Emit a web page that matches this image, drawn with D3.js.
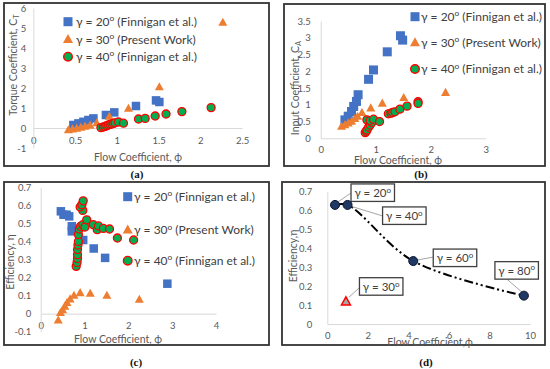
<!DOCTYPE html>
<html>
<head>
<meta charset="utf-8">
<style>
  body { margin: 0; background: #fff; }
  svg { display: block; font-family: Lato, "Open Sans", sans-serif; }
  .axis path { stroke: #D9D9D9; stroke-width: 1; }
  .axis text { fill: #595959; font-size: 9.5px; font-family: Lato, sans-serif; }
  .ttl { fill: #595959; font-size: 10.5px; }
  .leg { fill: #404040; font-size: 12px; }
  .box { fill: #404040; font-size: 11.5px; }
</style>
</head>
<body>
<script src="https://cdn.jsdelivr.net/npm/d3@7/dist/d3.min.js"></script>
<script>
// ---- values ----

// (a) torque coefficient vs flow coefficient
var aPhi20 = [0.48, 0.54, 0.60, 0.66, 0.72, 0.87, 0.97, 1.23, 1.47, 1.51];
var aCt20  = [0.15, 0.23, 0.31, 0.40, 0.48, 0.65, 0.78, 1.10, 1.38, 1.30];
var aPhi30 = [0.42, 0.47, 0.52, 0.57, 0.62, 0.68, 0.76, 0.91, 1.14, 1.51, 2.27];
var aCt30  = [-0.10, -0.06, -0.02, 0.03, 0.08, 0.13, 0.25, 0.57, 0.97, 2.05, 5.27];
var aPhi40 = [0.81, 0.84, 0.86, 0.88, 0.90, 0.92, 0.94, 0.96, 0.98, 1.02, 1.08, 1.26, 1.34, 1.46, 1.59, 1.78, 2.13];
var aCt40  = [0.02, 0.05, 0.08, 0.12, 0.15, 0.18, 0.20, 0.23, 0.26, 0.30, 0.24, 0.45, 0.48, 0.60, 0.70, 0.82, 1.02];
var aXTicks = [0, 0.5, 1, 1.5, 2, 2.5];
var aYTicks = [-1, 0, 1, 2, 3, 4, 5, 6];

// (b) input coefficient vs flow coefficient
var bPhi20 = [0.44, 0.50, 0.56, 0.60, 0.65, 0.68, 0.87, 0.96, 1.21, 1.45, 1.49];
var bCa20  = [0.55, 0.66, 0.80, 0.95, 1.10, 1.30, 1.76, 2.04, 2.58, 3.06, 2.93];
var bPhi30 = [0.38, 0.44, 0.50, 0.56, 0.62, 0.67, 0.75, 0.91, 1.12, 1.51, 2.27];
var bCa30  = [0.35, 0.40, 0.45, 0.50, 0.58, 0.65, 0.76, 0.90, 1.04, 1.21, 1.36];
var bPhi40 = [0.81, 0.83, 0.84, 0.87, 0.90, 0.93, 0.84, 0.90, 0.96, 1.07, 1.23, 1.28, 1.31, 1.35, 1.44, 1.57, 1.77, 1.77];
var bCa40  = [0.17, 0.21, 0.25, 0.33, 0.40, 0.47, 0.55, 0.53, 0.57, 0.50, 0.73, 0.75, 0.77, 0.79, 0.87, 0.96, 1.09, 1.04];
var bXTicks = [0, 1, 2, 3];
var bYTicks = [0, 0.5, 1, 1.5, 2, 2.5, 3, 3.5];

// (c) efficiency vs flow coefficient
var cPhi20 = [0.46, 0.52, 0.59, 0.65, 0.71, 0.71, 0.97, 1.21, 1.47, 2.89];
var cEff20 = [0.567, 0.548, 0.548, 0.539, 0.484, 0.456, 0.408, 0.361, 0.309, 0.166];
var cPhi30 = [0.40, 0.45, 0.50, 0.55, 0.60, 0.67, 0.76, 0.90, 1.13, 1.51, 2.25];
var cEff30 = [-0.037, 0.005, 0.02, 0.04, 0.06, 0.08, 0.10, 0.115, 0.111, 0.10, 0.078];
var cPhi40 = [0.81, 0.83, 0.84, 0.84, 0.84, 0.85, 0.86, 0.86, 0.88, 0.91, 0.96, 1.01, 1.05, 0.96, 0.90, 0.94, 0.97, 1.20, 1.29, 1.32, 1.43, 1.57, 1.75, 2.12];
var cEff40 = [0.262, 0.284, 0.306, 0.327, 0.355, 0.38, 0.40, 0.438, 0.469, 0.484, 0.493, 0.480, 0.520, 0.572, 0.591, 0.604, 0.625, 0.493, 0.465, 0.486, 0.472, 0.469, 0.419, 0.408];
var cXTicks = [0, 1, 2, 3, 4];
var cYTicks = [-0.1, 0, 0.1, 0.2, 0.3, 0.4, 0.5, 0.6, 0.7];

// (d) peak efficiency vs flow coefficient per blade angle
var dGamma = [20, 40, 60, 80];
var dPhi   = [0.38, 1.0, 4.24, 9.7];
var dEff   = [0.63, 0.63, 0.333, 0.15];
var dGamma30 = [30];
var dPhi30   = [0.92];
var dEff30   = [0.118];
var dXTicks = [0, 2, 4, 6, 8, 10];
var dYTicks = [0, 0.1, 0.2, 0.3, 0.4, 0.5, 0.6, 0.7];

// ---- drawing ----
var svg = d3.select("body").append("svg")
  .attr("width", 550)
  .attr("height", 369);

var BLUE = "#4472C4", ORANGE = "#ED7D31", GREEN = "#00B050", RED = "#FF0000";

function frame(x0, y0, x1, y1, label, lx, ly) {
  svg.append("rect")
    .attr("x", x0).attr("y", y0)
    .attr("width", x1 - x0).attr("height", y1 - y0)
    .attr("fill", "none").attr("stroke", "#333").attr("stroke-width", 1.8);
  svg.append("text")
    .attr("x", lx).attr("y", ly)
    .attr("text-anchor", "middle")
    .attr("font-family", "'Liberation Serif', serif")
    .attr("font-weight", "bold")
    .attr("font-size", 11)
    .attr("fill", "#111")
    .text(label);
}

function axes(x, y, xt, yt, xPad, yPad) {
  svg.append("g").attr("class", "axis")
    .attr("transform", "translate(0," + y(0) + ")")
    .call(d3.axisBottom(x).tickValues(xt).tickSize(0).tickSizeOuter(0).tickPadding(xPad).tickFormat(String));
  svg.append("g").attr("class", "axis")
    .attr("transform", "translate(" + x(0) + ",0)")
    .call(d3.axisLeft(y).tickValues(yt).tickSize(0).tickSizeOuter(0).tickPadding(yPad).tickFormat(String));
}

function xTitle(cx, cy, txt) {
  svg.append("text").attr("class", "ttl")
    .attr("x", cx).attr("y", cy + 3.7)
    .attr("text-anchor", "middle")
    .text(txt);
}

function yTitle(cx, cy, txt, sub) {
  var t = svg.append("text").attr("class", "ttl")
    .attr("transform", "translate(" + (cx + 3.7) + "," + cy + ") rotate(-90)")
    .attr("text-anchor", "middle");
  t.append("tspan").text(txt);
  if (sub) t.append("tspan").attr("font-size", 7.5).attr("dy", 2).text(sub);
}

function triPath(cx, cy, w) {
  var h = w * 0.9;
  return "M" + cx + "," + (cy - h * 0.6) + "L" + (cx + w / 2) + "," + (cy + h * 0.4) +
         "L" + (cx - w / 2) + "," + (cy + h * 0.4) + "Z";
}

function squares(x, y, xs, ys, s) {
  svg.append("g").selectAll("rect")
    .data(d3.zip(xs, ys)).enter().append("rect")
    .attr("x", function(d) { return x(d[0]) - s / 2; })
    .attr("y", function(d) { return y(d[1]) - s / 2; })
    .attr("width", s).attr("height", s)
    .attr("fill", BLUE);
}

function triangles(x, y, xs, ys, w) {
  svg.append("g").selectAll("path")
    .data(d3.zip(xs, ys)).enter().append("path")
    .attr("d", function(d) { return triPath(x(d[0]), y(d[1]), w); })
    .attr("fill", ORANGE);
}

function circles(x, y, xs, ys, r) {
  svg.append("g").selectAll("circle")
    .data(d3.zip(xs, ys)).enter().append("circle")
    .attr("cx", function(d) { return x(d[0]); })
    .attr("cy", function(d) { return y(d[1]); })
    .attr("r", r)
    .attr("fill", GREEN).attr("stroke", RED).attr("stroke-width", 1.3);
}

// "γ = 20" + raised small o + rest
function gammaText(t, num, rest, fs) {
  t.append("tspan").text("γ = " + num);
  t.append("tspan").attr("font-size", fs * 0.7).attr("dy", -fs * 0.38).text("o");
  if (rest) t.append("tspan").attr("dy", fs * 0.38).text(" " + rest);
}

function legend(mx, tx, rows) {
  var items = [
    {n: 20, s: "(Finnigan et al.)", k: "sq"},
    {n: 30, s: "(Present Work)", k: "tri"},
    {n: 40, s: "(Finnigan et al.)", k: "cir"}
  ];
  items.forEach(function(it, i) {
    var cy = rows[i];
    if (it.k == "sq") {
      svg.append("rect").attr("x", mx - 4.5).attr("y", cy - 4.5)
        .attr("width", 9).attr("height", 9).attr("fill", BLUE);
    } else if (it.k == "tri") {
      svg.append("path").attr("d", triPath(mx, cy, 10)).attr("fill", ORANGE);
    } else {
      svg.append("circle").attr("cx", mx).attr("cy", cy).attr("r", 4.3)
        .attr("fill", GREEN).attr("stroke", RED).attr("stroke-width", 1.4);
    }
    var t = svg.append("text").attr("class", "leg")
      .attr("x", tx).attr("y", cy + 4.3);
    gammaText(t, it.n, it.s, 12);
  });
}

// ---------- (a) ----------
frame(4, 3, 269, 166, "(a)", 137, 177.5);
var ax = d3.scaleLinear().domain([0, 2.5]).range([33.3, 242]);
var ay = d3.scaleLinear().domain([-1, 6]).range([148, 8]);
axes(ax, ay, aXTicks, aYTicks, 9.5, 7);
squares(ax, ay, aPhi20, aCt20, 8.5);
triangles(ax, ay, aPhi30, aCt30, 9);
circles(ax, ay, aPhi40, aCt40, 4);
legend(68, 76, [21.7, 39.3, 56.7]);
xTitle(138, 157, "Flow Coefficient, ϕ");
yTitle(13, 65, "Torque Coefficient, C", "T");

// ---------- (b) ----------
frame(284, 4, 545, 166, "(b)", 421, 177.5);
var bx = d3.scaleLinear().domain([0, 3]).range([320.7, 485.7]);
var by = d3.scaleLinear().domain([0, 3.5]).range([138.3, 21]);
axes(bx, by, bXTicks, bYTicks, 7.5, 10);
squares(bx, by, bPhi20, bCa20, 9);
triangles(bx, by, bPhi30, bCa30, 9);
circles(bx, by, bPhi40, bCa40, 4);
legend(415, 421, [16.7, 42.7, 69]);
xTitle(398, 160, "Flow Coefficient, ϕ");
yTitle(295, 88, "Input Coefficient, C", "A");

// ---------- (c) ----------
frame(4, 182, 269, 345, "(c)", 136, 365.5);
var cx = d3.scaleLinear().domain([0, 4]).range([40.7, 216]);
var cy = d3.scaleLinear().domain([-0.1, 0.7]).range([331.7, 187.3]);
axes(cx, cy, cXTicks, cYTicks, 8.5, 9.5);
squares(cx, cy, cPhi20, cEff20, 8.5);
triangles(cx, cy, cPhi30, cEff30, 9);
circles(cx, cy, cPhi40, cEff40, 4);
legend(127.7, 134, [196.7, 230, 260.7]);
xTitle(118, 339, "Flow Coefficient, ϕ");
yTitle(10, 262, "Efficiency, η");

// ---------- (d) ----------
frame(282, 182, 545, 345, "(d)", 426, 365.5);
var dx = d3.scaleLinear().domain([0, 10]).range([327.3, 530]);
var dy = d3.scaleLinear().domain([0, 0.7]).range([324, 191.7]);
axes(dx, dy, dXTicks, dYTicks, 8, 15);

var dLine = d3.line()
  .x(function(d) { return dx(d[0]); })
  .y(function(d) { return dy(d[1]); })
  .curve(d3.curveCatmullRom);
svg.append("path")
  .attr("d", dLine(d3.zip(dPhi, dEff)))
  .attr("fill", "none").attr("stroke", "#000").attr("stroke-width", 2)
  .attr("stroke-dasharray", "9,3,2,3,2,3");

// label boxes: offset of box corner from the point, and where the leader meets the box
var boxOff = {20: [16, -21], 40: [35, 2], 60: [20, -12], 80: [-29, -34], 30: [13.5, -24]};
var leadEnd = {20: [0, 9], 40: [0, 9], 60: [0, 8], 80: [12, 17.5], 30: [0, 10]};
var leadStart = {20: [3, -3], 40: [4, 1.5], 60: [4, -1], 80: [-2, -3.5], 30: [3, -4.5]};

function callout(g, px, py) {
  var o = boxOff[g], e = leadEnd[g], s = leadStart[g];
  var bx0 = px + o[0], by0 = py + o[1];
  svg.append("line")
    .attr("x1", px + s[0]).attr("y1", py + s[1])
    .attr("x2", bx0 + e[0]).attr("y2", by0 + e[1])
    .attr("stroke", "#A6A6A6").attr("stroke-width", 1);
  svg.append("rect")
    .attr("x", bx0).attr("y", by0).attr("width", 43.5).attr("height", 17.5)
    .attr("fill", "#fff").attr("stroke", "#404040").attr("stroke-width", 1.3);
  var t = svg.append("text").attr("class", "box")
    .attr("x", bx0 + 21.75).attr("y", by0 + 13.2)
    .attr("text-anchor", "middle");
  gammaText(t, g, null, 11.5);
}

d3.zip(dPhi, dEff, dGamma).forEach(function(d) {
  callout(d[2], dx(d[0]), dy(d[1]));
});
d3.zip(dPhi30, dEff30, dGamma30).forEach(function(d) {
  callout(d[2], dx(d[0]), dy(d[1]));
});

svg.append("g").selectAll("circle")
  .data(d3.zip(dPhi, dEff)).enter().append("circle")
  .attr("cx", function(d) { return dx(d[0]); })
  .attr("cy", function(d) { return dy(d[1]); })
  .attr("r", 4.5)
  .attr("fill", "#1F3864").attr("stroke", "#0B1730").attr("stroke-width", 1);
svg.append("g").selectAll("path")
  .data(d3.zip(dPhi30, dEff30)).enter().append("path")
  .attr("d", function(d) { return triPath(dx(d[0]), dy(d[1]), 9); })
  .attr("fill", "#A5A5A5").attr("stroke", RED).attr("stroke-width", 1.5);

xTitle(430, 342, "Flow Coefficient,ϕ");
yTitle(293, 256, "Efficiency,η");
</script>
</body>
</html>
